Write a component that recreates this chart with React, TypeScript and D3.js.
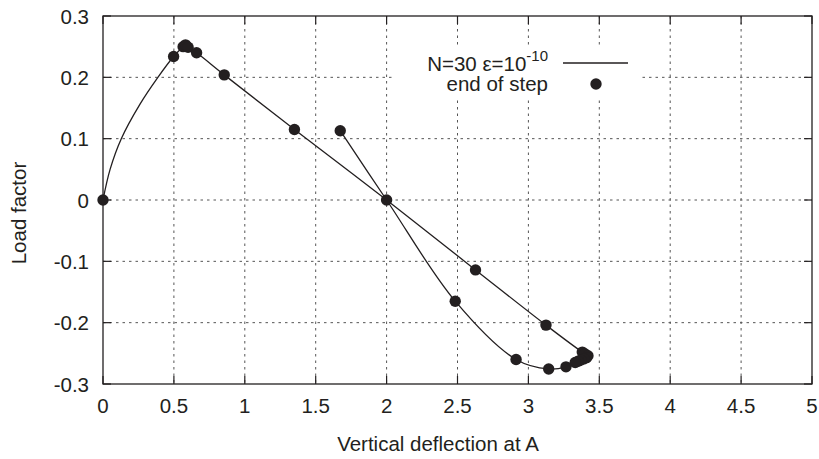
import React from "react";
import * as d3 from "d3";

// ---- data ----
const xTicks = [0, 0.5, 1, 1.5, 2, 2.5, 3, 3.5, 4, 4.5, 5];
const xTickLabels = ["0", "0.5", "1", "1.5", "2", "2.5", "3", "3.5", "4", "4.5", "5"];
const yTicks = [0.3, 0.2, 0.1, 0, -0.1, -0.2, -0.3];
const yTickLabels = ["0.3", "0.2", "0.1", "0", "-0.1", "-0.2", "-0.3"];

// continuous path (N=30, eps=1e-10)
const curveX = [0, 0.05, 0.129, 0.26, 0.387, 0.498, 0.565, 0.582, 0.6, 0.66, 0.855, 1.35, 2.0, 2.627, 3.124, 3.38, 3.4, 3.42, 3.41, 3.39, 3.37, 3.35, 3.33, 3.265, 3.143, 2.913, 2.484, 2.0, 1.673];
const curveY = [0, 0.05, 0.1, 0.156, 0.2, 0.234, 0.25, 0.253, 0.249, 0.24, 0.204, 0.115, 0, -0.114, -0.204, -0.248, -0.251, -0.254, -0.257, -0.259, -0.261, -0.263, -0.265, -0.272, -0.2755, -0.26, -0.165, 0, 0.113];

// end of step markers
const stepX = [0, 0.498, 0.565, 0.582, 0.6, 0.66, 0.855, 1.35, 2.0, 2.627, 3.124, 3.38, 3.4, 3.42, 3.41, 3.39, 3.37, 3.35, 3.33, 3.265, 3.143, 2.913, 2.484, 1.673];
const stepY = [0, 0.234, 0.25, 0.253, 0.249, 0.24, 0.204, 0.115, 0, -0.114, -0.204, -0.248, -0.251, -0.254, -0.257, -0.259, -0.261, -0.263, -0.265, -0.272, -0.2755, -0.26, -0.165, 0.113];

const W = 819;
const H = 459;
const FONT = "'Liberation Sans', Arial, Helvetica, sans-serif";
const INK = "#231f20";
const FS = 20.5;

export default function App() {
  const x = d3.scaleLinear().domain([0, 5]).range([103, 812]);
  const y = d3.scaleLinear().domain([-0.3, 0.3]).range([384, 16]);
  const [x0, x1] = x.range();
  const [y0, y1] = y.range();
  const tick = 8;

  const pts = curveX.map((v, i) => [v, curveY[i]] as [number, number]);
  const line = d3
    .line<[number, number]>()
    .x((d) => x(d[0]))
    .y((d) => y(d[1]))
    .curve(d3.curveCatmullRom.alpha(0.5));

  return (
    <svg
      width={W}
      height={H}
      style={{ position: "absolute", left: 0, top: 0, background: "#fff" }}
      fontFamily={FONT}
    >
      <rect x={0} y={0} width={W} height={H} fill="#fff" />
      {/* grid */}
      <g stroke="#555" strokeWidth={1} strokeDasharray="2.5,4">
        {xTicks.slice(1, -1).map((t) => (
          <line key={"gx" + t} x1={x(t)} x2={x(t)} y1={y1} y2={y0} />
        ))}
        {yTicks.slice(1, -1).map((t) => (
          <line key={"gy" + t} x1={x0} x2={x1} y1={y(t)} y2={y(t)} />
        ))}
      </g>
      {/* legend background */}
      <rect x={394} y={48} width={246} height={50} fill="#fff" />
      {/* ticks */}
      <g stroke={INK} strokeWidth={1.2}>
        {xTicks.map((t) => (
          <g key={"tx" + t}>
            <line x1={x(t)} x2={x(t)} y1={y0} y2={y0 - tick} />
            <line x1={x(t)} x2={x(t)} y1={y1} y2={y1 + tick} />
          </g>
        ))}
        {yTicks.map((t) => (
          <g key={"ty" + t}>
            <line x1={x0} x2={x0 + tick} y1={y(t)} y2={y(t)} />
            <line x1={x1} x2={x1 - tick} y1={y(t)} y2={y(t)} />
          </g>
        ))}
      </g>
      {/* frame */}
      <rect x={x0} y={y1} width={x1 - x0} height={y0 - y1} fill="none" stroke={INK} strokeWidth={1.3} />
      {/* tick labels */}
      <g fontSize={FS} fill={INK}>
        {xTicks.map((t, i) => (
          <text key={"lx" + t} x={x(t)} y={y0 + 29} textAnchor="middle">
            {xTickLabels[i]}
          </text>
        ))}
        {yTicks.map((t, i) => (
          <text key={"ly" + t} x={89} y={y(t) + 7.5} textAnchor="end">
            {yTickLabels[i]}
          </text>
        ))}
      </g>
      {/* axis titles */}
      <text x={438} y={451} fontSize={FS} textAnchor="middle" fill={INK}>
        Vertical deflection at A
      </text>
      <text
        transform={`translate(25.5,213) rotate(-90)`}
        fontSize={FS}
        textAnchor="middle"
        fill={INK}
      >
        Load factor
      </text>
      {/* curve */}
      <path d={line(pts) || ""} fill="none" stroke={INK} strokeWidth={1.3} />
      {/* markers */}
      <g fill={INK}>
        {stepX.map((v, i) => (
          <circle key={"p" + i} cx={x(v)} cy={y(stepY[i])} r={5.7} />
        ))}
      </g>
      {/* legend */}
      <g fill={INK} fontSize={FS}>
        <text x={548} y={70.5} textAnchor="end">
          N=30 ε=10
          <tspan fontSize={15} dy={-10}>-10</tspan>
        </text>
        <line x1={563} x2={628} y1={63} y2={63} stroke={INK} strokeWidth={1.3} />
        <text x={548} y={90.5} textAnchor="end">
          end of step
        </text>
        <circle cx={596} cy={84} r={5.7} />
      </g>
    </svg>
  );
}
